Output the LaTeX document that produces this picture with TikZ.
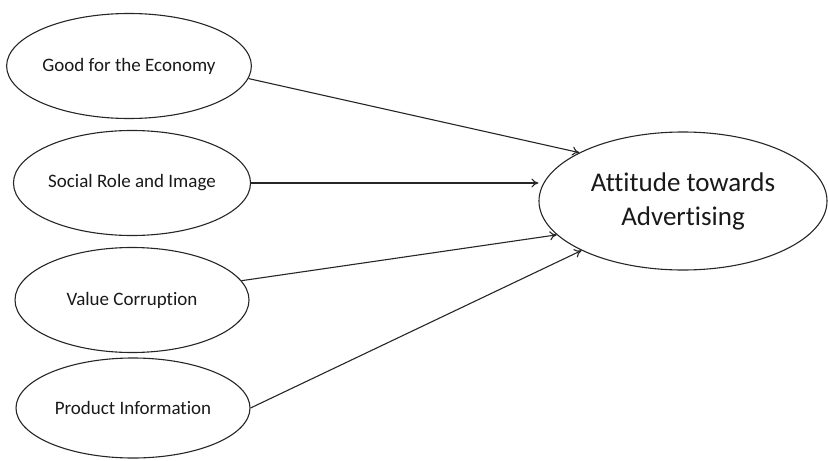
\documentclass[tikz,border=0pt]{standalone}
\usepackage{fontspec}
\setmainfont[RawFeature={-liga;-clig}]{Carlito}
\usetikzlibrary{shapes.geometric,arrows.meta}
\begin{document}
\begin{tikzpicture}[x=1pt,y=-1pt,
  oval/.style={ellipse,draw=black!85,line width=1.1pt,inner sep=0pt,font=\fontsize{19}{22}\selectfont,text=black!90},
  arr/.style={draw=black!85,line width=1.1pt,-{To[length=7pt,width=9pt]}}]
\useasboundingbox (0,0) rectangle (829,460);
\node[oval,minimum width=236pt,minimum height=105pt] (e1) at (129,66) {Good for the Economy};
\node[oval,minimum width=234pt,minimum height=105pt] (e2) at (132,183) {Social Role and Image};
\node[oval,minimum width=234pt,minimum height=105pt] (e3) at (132,300) {Value Corruption};
\node[oval,minimum width=234pt,minimum height=100pt] (e4) at (133,408) {Product Information};
\node[oval,minimum width=288pt,minimum height=138pt,align=center,font=\fontsize{27}{34}\selectfont] (t) at (683,201) {Attitude towards\\Advertising};
\draw[arr] (e1.-6) -- (t.155);
\draw[arr] (e2.east) -- (e2.east -| t.west);
\draw[arr] (e3.10) -- (t.195);
\draw[arr] (e4.east) -- (t.206);
\end{tikzpicture}
\end{document}
